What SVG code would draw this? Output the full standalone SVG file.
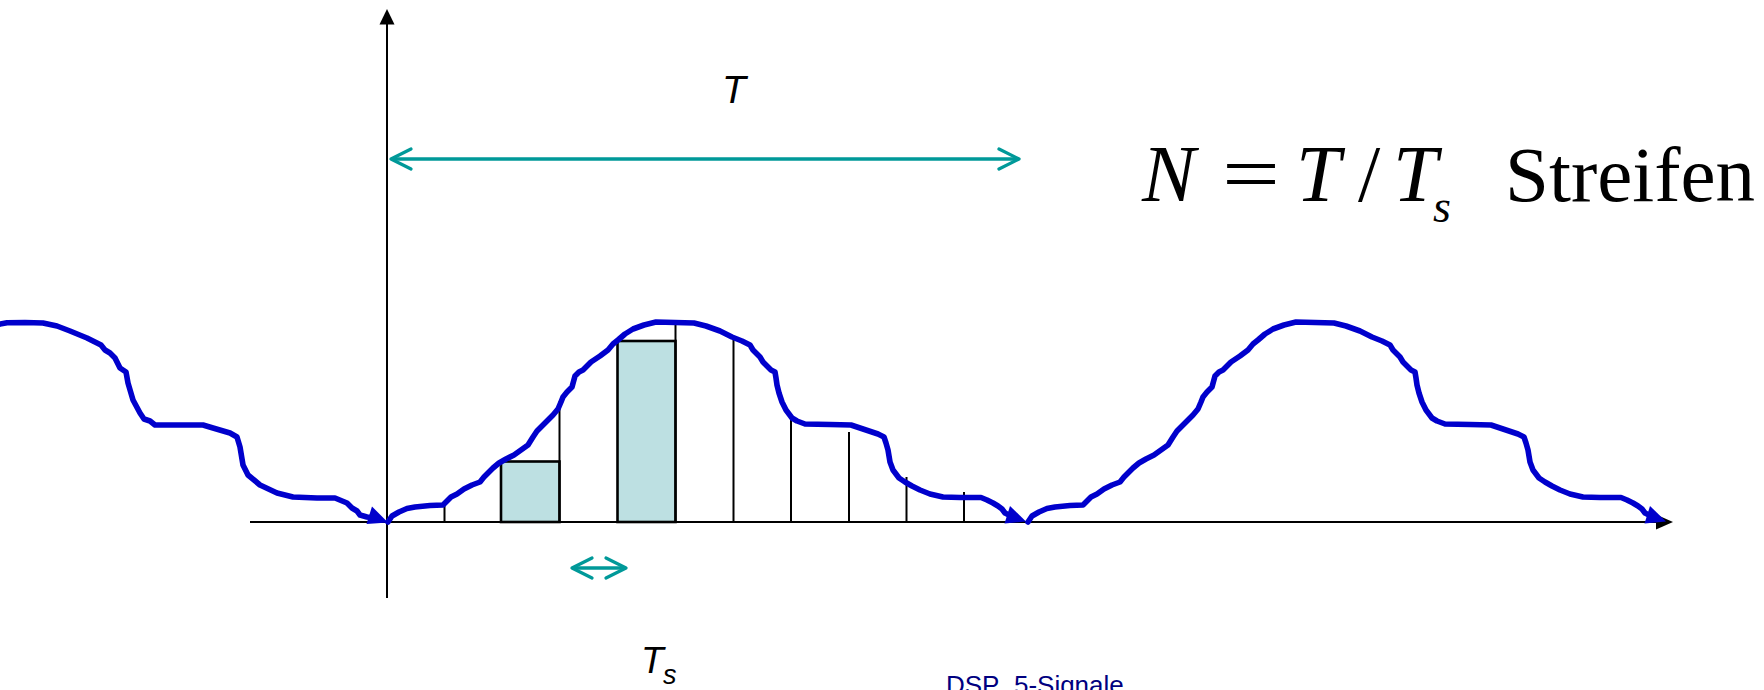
<svg xmlns="http://www.w3.org/2000/svg" xmlns:xlink="http://www.w3.org/1999/xlink" width="1764" height="690" viewBox="0 0 1764 690">
<style>
.wave{fill:none;stroke:#0000CC;stroke-width:5.6;stroke-linejoin:round;stroke-linecap:round}
.head{fill:#0000CC}
.axis{stroke:#000;stroke-width:2;fill:none}
.tick{stroke:#000;stroke-width:2}
.bar{fill:#BDE0E2;stroke:#000;stroke-width:2.6}
.dim{stroke:#009999;stroke-width:3.3;fill:none}
.lbl{font-family:"Liberation Sans",Arial,sans-serif;font-style:italic;fill:#000}
.math{font-family:"Liberation Serif","Times New Roman",serif;fill:#000}
</style>
<defs>
<marker id="chev" viewBox="-24 -13 28 26" refX="0" refY="0" markerWidth="28" markerHeight="26" markerUnits="userSpaceOnUse" orient="auto-start-reverse">
<path d="M-20,-10 L0,0 L-20,10" fill="none" stroke="#009999" stroke-width="3.3" stroke-linecap="round" stroke-linejoin="round"/>
</marker>
<g id="period">
<path class="wave" d="M388,522 L392,516 L399,512 L407,508.5 L415,507 L430,505.5 L443,505 L447,501 L451,497 L457,494 L464,489 L472,485 L480,482 L484,477 L488,473 L493,468 L499,463 L506,459 L514,455 L521,450 L528,445 L533,437 L537,431 L541,427 L547,421 L553,415 L558,409 L561,402 L563,397 L567,392 L572,387 L575,376 L579,372 L583,370 L591,362 L600,356 L608,350 L613,344 L618,340 L625,334 L633,329 L644,325 L656,322 L675,322.5 L694,323 L706,326 L720,331 L732,337 L742,341 L750,345 L753,350 L756,353 L760,357 L763,362 L768,367 L771,370 L775,372 L776,378 L777,385 L779,393 L782,402 L786,410 L792,418 L797,421 L805,424 L830,424.5 L851,425 L866,430 L878,434 L884,437 L886,443 L888,450 L890,462 L893,470 L899,478 L905,482 L912,486 L920,490 L930,494 L943,497 L960,497.5 L981,497.5 L987,500 L993,503 L998,506 L1002,509 L1005,513 L1009,515 L1014,516"/>
<polygon class="head" points="1026,521.5 1010,506 1004.5,523.5"/>
</g>
</defs>

<g id="axes">
<line class="axis" x1="387" y1="22" x2="387" y2="598"/>
<line class="axis" x1="387" y1="309" x2="387" y2="598" stroke-width="2.4"/>
<polygon points="387,9 379.5,24.5 394.5,24.5" fill="#000"/>
<line class="axis" x1="250" y1="522" x2="1660" y2="522"/>
<polygon points="1673,522 1656,514.5 1656,529.5" fill="#000"/>
</g>

<g id="strips">
<rect class="bar" x="501" y="461.5" width="58.5" height="60.5"/>
<rect class="bar" x="617.5" y="341" width="58" height="181"/>
<line class="tick" x1="444.5" y1="505" x2="444.5" y2="522"/>
<line class="tick" x1="559.5" y1="401" x2="559.5" y2="522"/>
<line class="tick" x1="675.5" y1="325" x2="675.5" y2="522"/>
<line class="tick" x1="733.5" y1="340" x2="733.5" y2="522"/>
<line class="tick" x1="791" y1="417" x2="791" y2="522"/>
<line class="tick" x1="849" y1="432" x2="849" y2="522"/>
<line class="tick" x1="906.5" y1="477" x2="906.5" y2="522"/>
<line class="tick" x1="964" y1="492" x2="964" y2="522"/>
</g>

<g id="signal">
<path class="wave" d="M-10,327 L0,324 L7,322.7 L25,322.5 L43,323 L57,326 L70,331 L87,338 L101,345 L105,350 L110,353 L115,358 L120,368 L126,372 L128,383 L133,400 L140,413 L144,419 L150,421 L155,425 L160,425 L203,425 L213,428 L230,433 L237,437 L240,447 L243,465 L248,475 L260,485 L277,493 L293,497 L317,498 L335,498 L347,503 L352,508 L357,511 L360,515 L367,517 L374,518"/>
<polygon class="head" points="388,522.5 372,506.5 366.5,524"/>
<use xlink:href="#period"/>
<use xlink:href="#period" transform="translate(640,0)"/>
</g>

<g id="dims">
<line class="dim" x1="391" y1="159" x2="1019" y2="159" marker-start="url(#chev)" marker-end="url(#chev)"/>
<line class="dim" x1="572" y1="568" x2="626" y2="568" marker-start="url(#chev)" marker-end="url(#chev)"/>
</g>

<g id="labels">
<text class="lbl" x="722" y="103" font-size="39">T</text>
<text class="lbl" x="641" y="673" font-size="37">T</text>
<text class="lbl" x="663" y="684" font-size="27">s</text>
<text class="math" x="1142" y="201" font-size="80" font-style="italic">N</text>
<text class="math" x="1222" y="201" font-size="80" textLength="58" lengthAdjust="spacingAndGlyphs">=</text>
<text class="math" x="1296" y="201" font-size="80" font-style="italic">T</text>
<text class="math" x="1358" y="201" font-size="80">/</text>
<text class="math" x="1393" y="201" font-size="80" font-style="italic">T</text>
<text class="math" x="1433" y="222" font-size="46" font-style="italic">s</text>
<text class="math" x="1505" y="201" font-size="79">Streifen</text>
<text x="946" y="694" font-size="26" font-family="'Liberation Sans',Arial,sans-serif" fill="#000080">DSP_5-Signale</text>
</g>
</svg>
